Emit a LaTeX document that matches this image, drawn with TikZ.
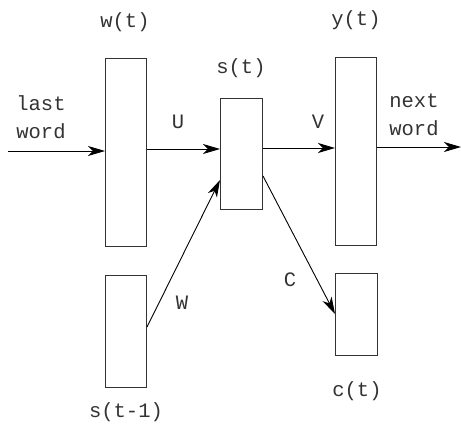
\documentclass[tikz,border=0pt]{standalone}
\usepackage{fontspec}
\setmonofont{Liberation Mono}
\usetikzlibrary{arrows.meta}
\begin{document}
\begin{tikzpicture}[x=1pt,y=-1pt,
  layer/.style={draw=black!80,line width=1pt,minimum width=41pt,inner sep=0pt,anchor=north west},
  lbl/.style={font=\ttfamily\fontsize{20.5}{28}\selectfont,text=black!80,inner sep=0pt,align=left},
  conn/.style={line width=0.9pt,-{Stealth[length=17pt,width=10pt,inset=5pt]}}]
\useasboundingbox (0,0) rectangle (461,428);
\node[layer,minimum height=188pt] (w) at (105,58) {};
\node[layer,minimum height=112pt] (sp) at (105,275) {};
\node[layer,minimum width=42pt,minimum height=111pt] (s) at (220,98) {};
\node[layer,minimum height=188pt] (y) at (335,57) {};
\node[layer,minimum width=42pt,minimum height=82pt] (c) at (335,273) {};
\node[lbl] (wl) at (125,22) {w(t)};
\node[lbl] (sl) at (241,68) {s(t)};
\node[lbl] (yl) at (356,20) {y(t)};
\node[lbl] (spl) at (126,412) {s(t-1)};
\node[lbl] (cl) at (357,391) {c(t)};
\node[lbl] (last) at (41,117) {last\\word};
\node[lbl] (next) at (414,115) {next\\word};
\node[lbl] (U) at (178,122) {U};
\node[lbl] (V) at (318,122) {V};
\node[lbl] (W) at (182,303) {W};
\node[lbl] (C) at (290,280) {C};
\coordinate (in) at (8,151);
\coordinate (out) at (461,147);
\draw[conn] (in) -- (w.west |- in);
\draw[conn] (w.east |- 0,149) -- (s.west |- 0,149);
\draw[conn] (s.east |- 0,148) -- (y.west |- 0,148);
\draw[conn] (y.east |- out) -- (out);
\draw[conn] (sp.east |- 0,327) -- (s.west |- 0,180);
\draw[conn] (s.east |- 0,176) -- (c.west |- 0,314);
\end{tikzpicture}
\end{document}
